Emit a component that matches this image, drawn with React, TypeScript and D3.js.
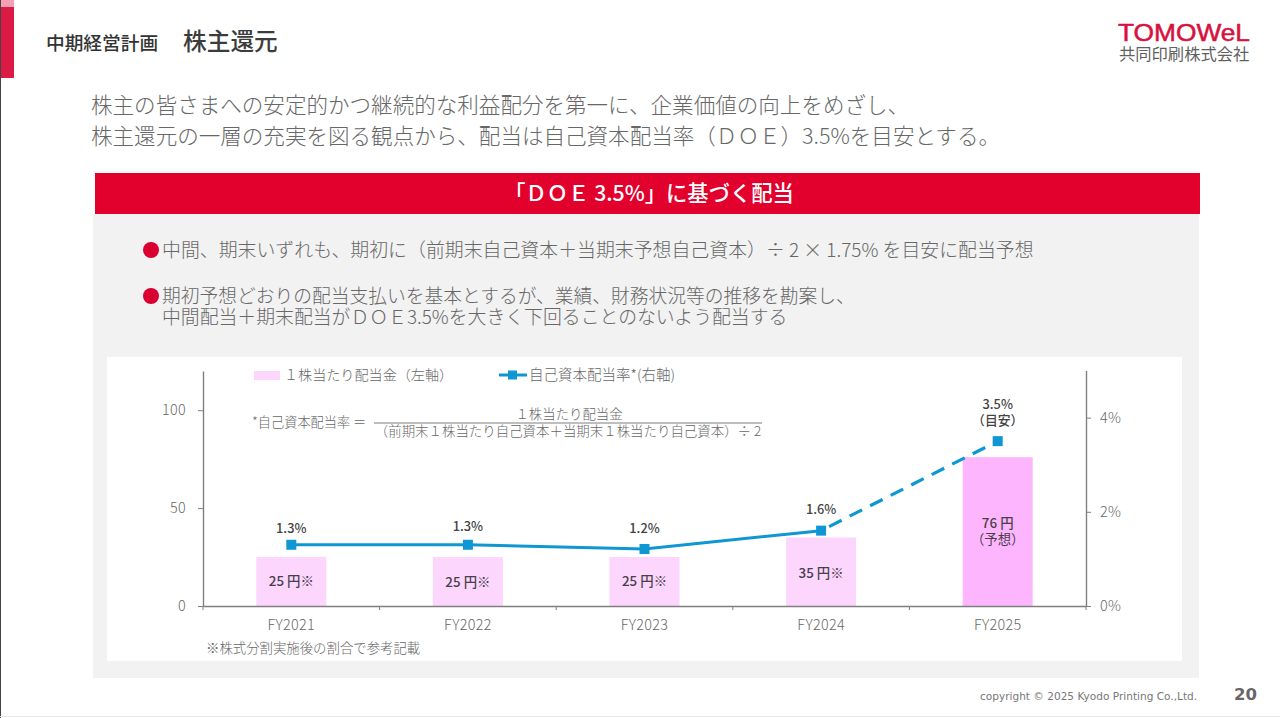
import { useEffect, useRef } from "react";
import * as d3 from "d3";

const years = ["FY2021", "FY2022", "FY2023", "FY2024", "FY2025"];
const dividend = [25, 25, 25, 35, 76];
const doe = [1.3, 1.3, 1.21, 1.6, 3.5];
const dividendLabels = [["25 円※"], ["25 円※"], ["25 円※"], ["35 円※"], ["76 円", "（予想）"]];
const doeLabels = [["1.3%"], ["1.3%"], ["1.2%"], ["1.6%"], ["3.5%", "（目安）"]];
const leftTicks = [0, 50, 100];
const rightTicks = [0, 2, 4];

const JP = "'Noto Sans CJK JP', 'Noto Sans', sans-serif";
const GREY = "#676767";
const AXIS = "#7f7f7f";
const BLUE = "#0f97d4";

export default function App() {
  const chartRef = useRef<SVGGElement | null>(null);

  useEffect(() => {
    if (!chartRef.current) return;
    const g = d3.select(chartRef.current);
    g.selectAll("*").remove();

    const x = d3.scaleBand<string>().domain(years).range([203, 1086]);
    const yLeft = d3.scaleLinear().domain([0, 120]).range([606, 371]);
    const yRight = d3.scaleLinear().domain([0, 5]).range([606, 370.5]);
    const cx = (i: number) => x(years[i])! + x.bandwidth() / 2;
    const barW = 70;

    // bars
    g.selectAll("rect.bar")
      .data(dividend)
      .enter()
      .append("rect")
      .attr("x", (_, i) => cx(i) - barW / 2)
      .attr("y", (d) => yLeft(d))
      .attr("width", barW)
      .attr("height", (d) => 606 - yLeft(d))
      .attr("fill", (_, i) => (i === 4 ? "#fdb6fd" : "#fdd6fd"));

    // axes
    const left = g.append("g").attr("transform", "translate(203,0)").call(
      d3.axisLeft(yLeft).tickValues(leftTicks).tickSizeInner(5).tickSizeOuter(0).tickPadding(12)
    );
    const right = g.append("g").attr("transform", "translate(1086,0)").call(
      d3.axisRight(yRight).tickValues(rightTicks).tickSizeInner(5).tickSizeOuter(0).tickPadding(9).tickFormat((d) => `${d}%`)
    );
    const bottom = g.append("g").attr("transform", "translate(0,606)").call(
      d3.axisBottom(x).tickSize(0).tickPadding(14)
    );
    bottom.selectAll("line").remove();
    g.selectAll("line.sep")
      .data([...years.map((d) => x(d)!), 1086])
      .enter()
      .append("line")
      .attr("x1", (d) => d)
      .attr("x2", (d) => d)
      .attr("y1", 606)
      .attr("y2", 610)
      .attr("stroke", AXIS);
    for (const a of [left, right, bottom]) {
      a.selectAll("path").attr("stroke", AXIS).attr("stroke-width", 1.4);
      a.selectAll("line").attr("stroke", AXIS);
      a.selectAll("text")
        .attr("fill", GREY)
        .style("font-family", JP)
        .style("font-size", "14.4px")
        .style("letter-spacing", "0.3px")
        .style("font-weight", 300);
    }

    // line, solid up to FY2024 and dashed to the FY2025 target
    const line = d3
      .line<number>()
      .x((_, i) => cx(i))
      .y((d) => yRight(d));
    g.append("path")
      .attr("d", line(doe.slice(0, 4)))
      .attr("fill", "none")
      .attr("stroke", BLUE)
      .attr("stroke-width", 3);
    const dashLine = d3
      .line<number>()
      .x((_, i) => cx(i + 3))
      .y((d) => yRight(d));
    g.append("path")
      .attr("d", dashLine(doe.slice(3)))
      .attr("fill", "none")
      .attr("stroke", BLUE)
      .attr("stroke-width", 3.2)
      .attr("stroke-dasharray", "14 9")
      .attr("stroke-dashoffset", -9);
    g.selectAll("rect.mark")
      .data(doe)
      .enter()
      .append("rect")
      .attr("x", (_, i) => cx(i) - 5)
      .attr("y", (d) => yRight(d) - 5)
      .attr("width", 10)
      .attr("height", 10)
      .attr("fill", BLUE);

    // value labels
    const barLabelY = [581, 582, 581, 573, 523];
    dividendLabels.forEach((lines, i) => {
      lines.forEach((t, k) => {
        g.append("text")
          .attr("x", cx(i))
          .attr("y", barLabelY[i] + k * 16 + 5)
          .attr("text-anchor", "middle")
          .attr("fill", "#47404a")
          .style("font-family", JP)
          .style("font-size", "13.4px")
          .style("font-weight", k === 0 ? 500 : 400)
          .text(t);
      });
    });
    const doeLift = [17, 19, 21, 22, 37];
    doeLabels.forEach((lines, i) => {
      lines.forEach((t, k) => {
        g.append("text")
          .attr("x", cx(i))
          .attr("y", yRight(doe[i]) - doeLift[i] + k * 16 + 5)
          .attr("text-anchor", "middle")
          .attr("fill", "#444")
          .style("font-family", JP)
          .style("font-size", "12.8px")
          .style("font-weight", 500)
          .text(t);
      });
    });
  }, []);

  const t = (x: number, y: number, s: string, size: number, fill = GREY, weight = 300, anchor = "start") => (
    <text x={x} y={y} fontSize={size} fill={fill} fontWeight={weight} textAnchor={anchor}>
      {s}
    </text>
  );

  return (
    <svg
      width={1280}
      height={718}
      fontFamily={JP}
      style={{ position: "absolute", left: 0, top: 0, background: "#fff" }}
    >
      <rect x={0} y={0} width={1} height={718} fill="#444" />
      <rect x={1} y={0} width={13} height={7} fill="#f3a0b4" />
      <rect x={1} y={7} width={13} height={71} fill="#dc1a46" />
      <rect x={0} y={716} width={1280} height={1} fill="#e8e8e8" />

      {t(46, 50, "中期経営計画", 18.7, "#333", 500)}
      {t(183, 50, "株主還元", 23.7, "#3c3c3c", 500)}

      <text
        x={1118}
        y={41}
        fontSize={23}
        fontFamily="'Liberation Sans', sans-serif"
        fill="#d6123f"
        stroke="#d6123f"
        strokeWidth={0.5}
        textLength={132}
        lengthAdjust="spacingAndGlyphs"
      >
        TOMOWeL
      </text>
      {t(1119, 60, "共同印刷株式会社", 16.3, "#5f5f5f", 400)}

      {t(91, 113, "株主の皆さまへの安定的かつ継続的な利益配分を第一に、企業価値の向上をめざし、", 21.55)}
      {t(91, 144, "株主還元の一層の充実を図る観点から、配当は自己資本配当率（ＤＯＥ）3.5%を目安とする。", 21.55)}

      <rect x={93} y={214} width={1106} height={464} fill="#f2f2f2" />
      <rect x={95} y={173} width={1105} height={41} fill="#e2002d" />
      {t(649, 201, "「ＤＯＥ 3.5%」に基づく配当", 21.3, "#fff", 500, "middle")}

      <circle cx={151} cy={250} r={8} fill="#d9002f" />
      {t(162, 257, "中間、期末いずれも、期初に（前期末自己資本＋当期末予想自己資本）÷ 2 × 1.75% を目安に配当予想", 18.9)}
      <circle cx={151} cy={296} r={8} fill="#d9002f" />
      {t(162, 303, "期初予想どおりの配当支払いを基本とするが、業績、財務状況等の推移を勘案し、", 18.75)}
      {t(162, 324, "中間配当＋期末配当がＤＯＥ3.5%を大きく下回ることのないよう配当する", 18.85)}

      <rect x={107} y={357} width={1075} height={304} fill="#fff" />

      <rect x={254} y={371} width={26} height={9} fill="#fdd6fd" />
      {t(284, 380, "１株当たり配当金（左軸）", 14.1)}
      <line x1={499} x2={527} y1={375} y2={375} stroke={BLUE} strokeWidth={3} />
      <rect x={508} y={370.5} width={9} height={9} fill={BLUE} />
      {t(529, 380, "自己資本配当率*(右軸)", 14.5)}

      {t(252, 427, "*自己資本配当率 ＝", 13.2)}
      {t(569, 419, "１株当たり配当金", 13.4, GREY, 300, "middle")}
      <line x1={374} x2={762} y1={423} y2={423} stroke={AXIS} strokeWidth={1.2} />
      {t(568, 436, "（前期末１株当たり自己資本＋当期末１株当たり自己資本）÷ 2", 13.45, GREY, 300, "middle")}

      <g ref={chartRef} />

      {t(206, 653, "※株式分割実施後の割合で参考記載", 13.4)}

      <text x={980} y={700} fontSize={10.55} fill="#777" fontFamily="'DejaVu Sans', sans-serif">
        copyright © 2025 Kyodo Printing Co.,Ltd.
      </text>
      <text x={1234} y={700} fontSize={16.5} fontWeight={700} fill="#666" fontFamily="'DejaVu Sans', sans-serif">
        20
      </text>
    </svg>
  );
}
